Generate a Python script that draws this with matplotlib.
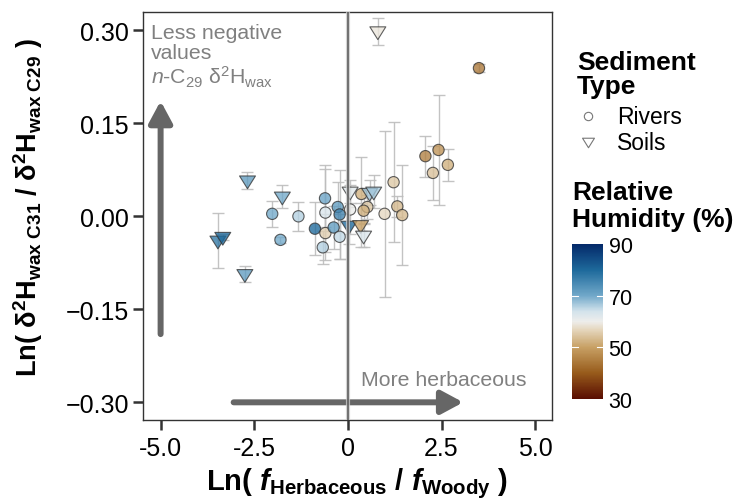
import numpy as np
import matplotlib
matplotlib.use('Agg')
import matplotlib.pyplot as plt
from matplotlib.colors import LinearSegmentedColormap, Normalize
from matplotlib.lines import Line2D
from matplotlib.patches import FancyArrowPatch
from matplotlib.markers import MarkerStyle
from matplotlib.path import Path

plt.rcParams['font.family'] = ['Liberation Sans', 'DejaVu Sans']
plt.rcParams['mathtext.fontset'] = 'custom'
plt.rcParams['mathtext.rm'] = 'Liberation Sans'
plt.rcParams['mathtext.it'] = 'Liberation Sans:italic'
plt.rcParams['mathtext.bf'] = 'Liberation Sans:bold'
plt.rcParams['mathtext.bfit'] = 'Liberation Sans:bold:italic'

# ---------------- data ----------------
river_x = [-2.02, -1.80, -1.32, -0.88, -0.61, -0.60, -0.67, -0.60, -0.38, -0.27, -0.22, -0.22,
           0.06, 0.36, 0.52, 0.42, 0.98, 1.22, 1.32, 1.45, 2.07, 2.42, 2.27, 2.67, 3.50]
river_y = [0.004, -0.038, 0.000, -0.020, 0.029, 0.006, -0.050, -0.027, -0.018, 0.015, 0.003, -0.033,
           0.011, 0.036, 0.015, 0.009, 0.004, 0.055, 0.016, 0.002, 0.097, 0.107, 0.070, 0.083, 0.239]
river_err = [0.021, 0.005, 0.023, 0.043, 0.047, 0.077, 0.027, 0.030, 0.035, 0.040, 0.072, 0.036,
             0.040, 0.060, 0.020, 0.020, 0.134, 0.097, 0.017, 0.081, 0.033, 0.089, 0.044, 0.026, 0.006]
river_rh = [70, 70, 66, 80, 71, 63, 66, 56, 72, 72, 76, 65,
            60, 52, 55, 52, 57, 55, 53, 53, 45, 48, 54, 52, 44]

soil_x = [-2.68, -1.75, -3.47, -3.34, -2.75, 0.06, 0.03, 0.34, 0.42, 0.58, 0.69, 0.80]
soil_y = [0.058, 0.032, -0.039, -0.033, -0.093, 0.040, -0.015, -0.014, -0.031, 0.038, 0.040, 0.2985]
soil_err = [0.014, 0.019, 0.044, 0.005, 0.013, 0.018, 0.030, 0.035, 0.019, 0.020, 0.027, 0.022]
soil_rh = [72, 70, 78, 80, 72, 62, 80, 50, 63, 67, 67, 59]

x_ticks = [-5.0, -2.5, 0, 2.5, 5.0]
x_ticklabels = ['-5.0', '-2.5', '0', '2.5', '5.0']
y_ticks = [0.30, 0.15, 0.00, -0.15, -0.30]
y_ticklabels = ['0.30', '0.15', '0.00', '\u22120.15', '\u22120.30']
rh_ticks = [30, 50, 70, 90]

# colour scale (brown -> white -> blue)
cm_vals = [30, 40, 50, 57, 60, 64, 70, 80, 90]
cm_cols = ['#5a0e02', '#985c1c', '#c8a165', '#e6d8c0', '#eeeeec', '#d3e3ec', '#72a9ca', '#1e6a9c', '#052a6a']
cmap = LinearSegmentedColormap.from_list(
    'rh', [((v - 30) / 60, c) for v, c in zip(cm_vals, cm_cols)])
norm = Normalize(30, 90)

W, H = 735, 502
def fx(px): return px / W
def fy(py): return 1 - py / H

fig = plt.figure(figsize=(7.35, 5.02), dpi=100)
ax = fig.add_axes([fx(143), fy(421), fx(552) - fx(143), fy(13) - fy(421)])
ax.set_xlim(-5.47, 5.45)
ax.set_ylim(-0.3285, 0.3295)

# error bars
ax.errorbar(river_x + soil_x, river_y + soil_y, yerr=river_err + soil_err, fmt='none',
            ecolor='#bdbdbd', elinewidth=1.0, capsize=4.5, capthick=1.0, zorder=2, alpha=0.9)

# arrows
grey = '#666666'
a1 = FancyArrowPatch((-5.0, -0.19), (-5.0, 0.186), arrowstyle='-|>,head_length=13,head_width=7',
                     mutation_scale=1, lw=4.3, color=grey, shrinkA=0, shrinkB=0, zorder=1.5)
a2 = FancyArrowPatch((-3.05, -0.30), (3.08, -0.30), arrowstyle='-|>,head_length=13,head_width=7',
                     mutation_scale=1, lw=4.3, color=grey, shrinkA=0, shrinkB=0, zorder=1.5)
ax.add_patch(a1)
ax.add_patch(a2)

# points
tri = MarkerStyle(Path([(-1, 0.55), (1, 0.55), (0, -1.05), (-1, 0.55)],
                       [Path.MOVETO, Path.LINETO, Path.LINETO, Path.CLOSEPOLY]))
ax.scatter(river_x, river_y, s=66, c=river_rh, cmap=cmap, norm=norm, marker='o',
           edgecolors='#333333', linewidths=0.8, alpha=0.78, zorder=3)
ax.scatter(soil_x, soil_y, s=145, c=soil_rh, cmap=cmap, norm=norm, marker=tri,
           edgecolors='#333333', linewidths=0.8, alpha=0.78, zorder=3)

# zero line
ax.axvline(0, color='#c8c8c8', lw=3.0, zorder=4, alpha=0.8)
ax.axvline(0, color='#555555', lw=1.1, zorder=4.1)

# annotations
ax.text(-5.25, 0.312, 'Less negative\nvalues\n$\\mathit{n}$-C$_{29}$ \u03b4$^{2}$H$_{\\mathrm{wax}}$',
        color='#808080', fontsize=15.3, ha='left', va='top', linespacing=1.08, zorder=5)
ax.text(0.36, -0.272, 'More herbaceous', color='#808080', fontsize=15.3,
        ha='left', va='baseline', zorder=5)

ax.set_xticks(x_ticks)
ax.set_xticklabels(x_ticklabels)
ax.set_yticks(y_ticks)
ax.set_yticklabels(y_ticklabels)
ax.tick_params(direction='out', length=7, width=1.8, color='#333333', labelsize=18, pad=3,
               labelcolor='black')
ax.tick_params(axis='x', pad=4.5)
for sp in ax.spines.values():
    sp.set_linewidth(1.0)
    sp.set_color('#333333')

# axis titles
fig.text(fx(357), fy(490), 'Ln( $\\mathbfit{f}_{\\mathbf{Herbaceous}}$ / $\\mathbfit{f}_{\\mathbf{Woody}}$ )',
         fontsize=21, fontweight='bold', ha='center', va='baseline')
fig.text(fx(28), fy(208),
         'Ln( \u03b4$^{\\mathbf{2}}$H$_{\\mathbf{wax\\ C31}}$ / \u03b4$^{\\mathbf{2}}$H$_{\\mathbf{wax\\ C29}}$ )',
         fontsize=19.5, fontweight='bold', ha='center', va='center', rotation=90)

# legend (shape)
fig.text(fx(577), fy(70), 'Sediment', fontsize=19, fontweight='bold', ha='left', va='baseline')
fig.text(fx(577), fy(94), 'Type', fontsize=19, fontweight='bold', ha='left', va='baseline')
fig.add_artist(Line2D([fx(588)], [fy(117)], marker='o', ms=6, mfc='white', mec='#777777', mew=0.8,
                      ls='none', transform=fig.transFigure))
fig.add_artist(Line2D([fx(588)], [fy(142)], marker=tri, ms=9, mfc='white', mec='#777777', mew=0.8,
                      ls='none', transform=fig.transFigure))
fig.text(fx(617), fy(124.5), 'Rivers', fontsize=16.5, ha='left', va='baseline')
fig.text(fx(617), fy(150), 'Soils', fontsize=16.5, ha='left', va='baseline')

# colour bar
fig.text(fx(572), fy(200), 'Relative', fontsize=19, fontweight='bold', ha='left', va='baseline')
fig.text(fx(572), fy(226.5), 'Humidity (%)', fontsize=19, fontweight='bold', ha='left', va='baseline')
cax = fig.add_axes([fx(572), fy(400), fx(603) - fx(572), fy(245) - fy(400)])
grad = np.linspace(30, 90, 300)[:, None]
cax.imshow(grad, aspect='auto', cmap=cmap, norm=norm, origin='lower', extent=[0, 1, 30, 90])
cax.set_xlim(0, 1)
cax.set_ylim(30, 90)
for t in [50, 70]:
    cax.plot([0, 0.2], [t, t], color='white', lw=0.8)
    cax.plot([0.8, 1], [t, t], color='white', lw=0.8)
cax.set_xticks([])
cax.yaxis.tick_right()
cax.set_yticks(rh_ticks)
cax.set_yticklabels([str(t) for t in rh_ticks])
cax.tick_params(length=0, labelsize=15.5, pad=4)
for sp in cax.spines.values():
    sp.set_visible(False)

fig.savefig('out.png', dpi=100)
